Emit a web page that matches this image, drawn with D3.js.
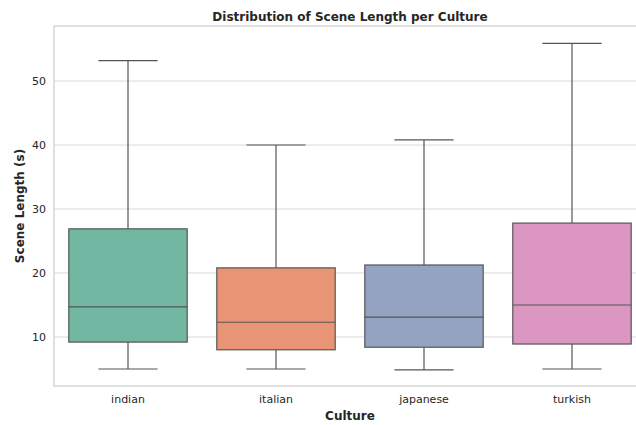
<!DOCTYPE html>
<html>
<head>
<meta charset="utf-8">
<script src="https://cdn.jsdelivr.net/npm/d3@7"></script>
<style>
  body { margin: 0; background: #fff; }
  svg { font-family: "DejaVu Sans", sans-serif; display: block; }
</style>
</head>
<body>
<div id="chart"></div>
<script>
// box stats (seconds)
const cultures = ["indian", "italian", "japanese", "turkish"];
const whiskerLow = [5.0, 5.0, 4.85, 5.0];
const q1 = [9.2, 8.0, 8.4, 8.9];
const median = [14.7, 12.3, 13.1, 15.0];
const q3 = [26.9, 20.8, 21.25, 27.8];
const whiskerHigh = [53.2, 40.0, 40.8, 55.9];
const colors = ["#71b7a1", "#e99575", "#95a3c3", "#db96c1"];
const yTicks = [10, 20, 30, 40, 50];

const W = 636, H = 425;
const margin = { top: 26, right: -10, bottom: 39, left: 54 };

const svg = d3.select("#chart").append("svg")
    .attr("width", W)
    .attr("height", H);

const x = d3.scaleBand()
    .domain(cultures)
    .range([margin.left, W - margin.right])
    .paddingInner(0)
    .paddingOuter(0);

const y = d3.scaleLinear()
    .domain([2.34, 58.6])
    .range([H - margin.bottom, margin.top]);

const boxW = x.bandwidth() * 0.8;

// grid lines
svg.append("g")
    .selectAll("line")
    .data(yTicks)
    .join("line")
    .attr("x1", margin.left)
    .attr("x2", W - margin.right)
    .attr("y1", d => y(d))
    .attr("y2", d => y(d))
    .attr("stroke", "#d9d9d9")
    .attr("stroke-width", 1);

// frame
svg.append("rect")
    .attr("x", margin.left)
    .attr("y", margin.top)
    .attr("width", W - margin.right - margin.left)
    .attr("height", H - margin.bottom - margin.top)
    .attr("fill", "none")
    .attr("stroke", "#cccccc")
    .attr("stroke-width", 1.2);

const stats = cultures.map((c, i) => ({
    name: c, lo: whiskerLow[i], q1: q1[i], med: median[i], q3: q3[i], hi: whiskerHigh[i], color: colors[i]
}));

const lineColor = "#555555";

const box = svg.append("g")
    .selectAll("g")
    .data(stats)
    .join("g");

const cx = d => x(d.name) + x.bandwidth() / 2;

// whiskers
box.append("line")
    .attr("x1", cx).attr("x2", cx)
    .attr("y1", d => y(d.q3)).attr("y2", d => y(d.hi))
    .attr("stroke", lineColor).attr("stroke-width", 1.2);
box.append("line")
    .attr("x1", cx).attr("x2", cx)
    .attr("y1", d => y(d.q1)).attr("y2", d => y(d.lo))
    .attr("stroke", lineColor).attr("stroke-width", 1.2);

// caps
[d => d.hi, d => d.lo].forEach(f => {
    box.append("line")
        .attr("x1", d => cx(d) - boxW / 4).attr("x2", d => cx(d) + boxW / 4)
        .attr("y1", d => y(f(d))).attr("y2", d => y(f(d)))
        .attr("stroke", lineColor).attr("stroke-width", 1.2);
});

// boxes
box.append("rect")
    .attr("x", d => cx(d) - boxW / 2)
    .attr("width", boxW)
    .attr("y", d => y(d.q3))
    .attr("height", d => y(d.q1) - y(d.q3))
    .attr("fill", d => d.color)
    .attr("stroke", lineColor)
    .attr("stroke-width", 1.2);

// medians
box.append("line")
    .attr("x1", d => cx(d) - boxW / 2).attr("x2", d => cx(d) + boxW / 2)
    .attr("y1", d => y(d.med)).attr("y2", d => y(d.med))
    .attr("stroke", lineColor).attr("stroke-width", 1.2);

// axes
const yAxis = svg.append("g")
    .attr("transform", `translate(${margin.left},0)`)
    .call(d3.axisLeft(y).tickValues(yTicks).tickSize(0).tickPadding(8));
yAxis.select(".domain").remove();
yAxis.selectAll("text").attr("font-size", 11).attr("fill", "#262626")
    .attr("font-family", "DejaVu Sans");

const xAxis = svg.append("g")
    .attr("transform", `translate(0,${H - margin.bottom})`)
    .call(d3.axisBottom(x).tickSize(0).tickPadding(9));
xAxis.select(".domain").remove();
xAxis.selectAll("text").attr("font-size", 11).attr("fill", "#262626")
    .attr("font-family", "DejaVu Sans");

// title and labels
svg.append("text")
    .attr("x", (margin.left + W - margin.right) / 2)
    .attr("y", 21)
    .attr("text-anchor", "middle")
    .attr("font-size", 12)
    .attr("font-weight", "bold")
    .attr("fill", "#262626")
    .text("Distribution of Scene Length per Culture");

svg.append("text")
    .attr("x", (margin.left + W - margin.right) / 2)
    .attr("y", 420)
    .attr("text-anchor", "middle")
    .attr("font-size", 12)
    .attr("font-weight", "bold")
    .attr("fill", "#262626")
    .text("Culture");

svg.append("text")
    .attr("transform", `translate(24,${(margin.top + H - margin.bottom) / 2}) rotate(-90)`)
    .attr("text-anchor", "middle")
    .attr("font-size", 12)
    .attr("font-weight", "bold")
    .attr("fill", "#262626")
    .text("Scene Length (s)");
</script>
</body>
</html>
